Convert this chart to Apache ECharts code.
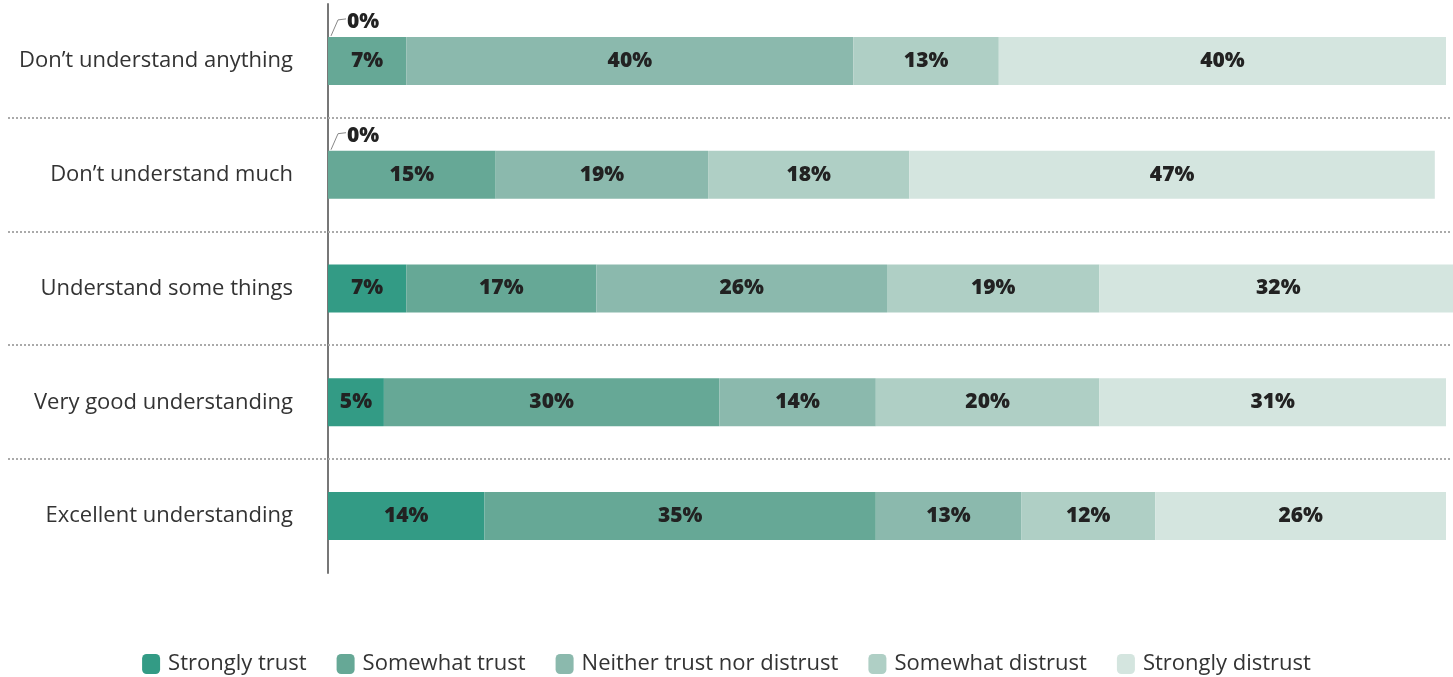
<!DOCTYPE html>
<html>
<head>
<meta charset="utf-8">
<script src="https://cdn.jsdelivr.net/npm/echarts@6/dist/echarts.min.js"></script>
<style>
  html, body { margin: 0; padding: 0; background: #fff; }
  #chart { width: 1453px; height: 677px; }
</style>
</head>
<body>
<div id="chart"></div>
<script>
// Self-rated understanding, top to bottom
const categories = [
  'Don\u2019t understand anything',
  'Don\u2019t understand much',
  'Understand some things',
  'Very good understanding',
  'Excellent understanding'
];

const seriesNames = [
  'Strongly trust',
  'Somewhat trust',
  'Neither trust nor distrust',
  'Somewhat distrust',
  'Strongly distrust'
];

// Share of respondents (%) per category
const stronglyTrust   = [0, 0, 7, 5, 14];
const somewhatTrust   = [7, 15, 17, 30, 35];
const neither         = [40, 19, 26, 14, 13];
const somewhatDistrust = [13, 18, 19, 20, 12];
const stronglyDistrust = [40, 47, 32, 31, 26];

const colors = ['#339b85', '#66a896', '#8bb9ad', '#afcfc5', '#d4e5df'];
const FONT = '"Open Sans", Lato, sans-serif';

const valueSets = [stronglyTrust, somewhatTrust, neither, somewhatDistrust, stronglyDistrust];

const barSeries = valueSets.map((vals, i) => ({
  name: seriesNames[i],
  type: 'bar',
  stack: 'total',
  barWidth: 48,
  clip: false,
  itemStyle: { color: colors[i] },
  label: {
    show: true,
    position: 'inside',
    color: '#222',
    fontFamily: FONT,
    fontWeight: 800,
    fontSize: 21,
    formatter: p => (p.value > 0 ? p.value + '%' : '')
  },
  emphasis: { disabled: true },
  data: vals
}));

// Dotted separators between category rows (span the label column too)
const separatorSeries = {
  type: 'custom',
  silent: true,
  z: 1,
  data: categories.slice(0, -1).map((c, i) => [0, i]),
  renderItem: (params, api) => {
    const idx = api.value(1);
    const a = api.coord([0, idx]);
    const b = api.coord([0, idx + 1]);
    const y = Math.round((a[1] + b[1]) / 2);
    return {
      type: 'line',
      shape: { x1: 8, y1: y, x2: 1450, y2: y },
      style: { stroke: '#aaaaaa', lineWidth: 2, lineDash: [2, 2] }
    };
  }
};

// Zero-valued "Strongly trust" segments get a leader line and label above the bar
const zeroLabelSeries = {
  type: 'custom',
  silent: true,
  z: 5,
  data: stronglyTrust
    .map((v, i) => [v, i])
    .filter(d => d[0] === 0),
  renderItem: (params, api) => {
    const p = api.coord([api.value(0), api.value(1)]);
    const top = p[1] - 24;
    return {
      type: 'group',
      children: [
        {
          type: 'polyline',
          shape: { points: [[p[0] + 3, top - 1], [p[0] + 10, top - 17], [p[0] + 18, top - 18]] },
          style: { stroke: '#888', lineWidth: 1, fill: null }
        },
        {
          type: 'text',
          style: {
            x: p[0] + 19, y: top - 15,
            text: api.value(0) + '%',
            fill: '#222',
            font: '800 21px ' + FONT,
            verticalAlign: 'middle',
            align: 'left'
          }
        }
      ]
    };
  }
};

const chart = echarts.init(document.getElementById('chart'), null, { renderer: 'canvas' });
chart.setOption({
  animation: false,
  backgroundColor: '#fff',
  grid: { left: 328, right: 7, top: 4, bottom: 104, containLabel: false },
  legend: {
    top: 648,
    left: 'center',
    itemWidth: 18,
    itemHeight: 20,
    itemGap: 30,
    icon: 'roundRect',
    data: seriesNames,
    textStyle: { fontFamily: FONT, fontSize: 22, color: '#333', padding: [0, 0, 0, 3] },
    selectedMode: false
  },
  xAxis: {
    type: 'value',
    min: 0,
    max: 100,
    show: false
  },
  yAxis: {
    type: 'category',
    data: categories,
    inverse: true,
    axisLine: { show: true, lineStyle: { color: '#777', width: 2 } },
    axisTick: { show: false },
    splitLine: { show: false },
    axisLabel: {
      margin: 35,
      fontFamily: FONT,
      fontSize: 22,
      color: '#333',
      padding: [3, 0, 0, 0]
    }
  },
  series: [separatorSeries, ...barSeries, zeroLabelSeries]
});
</script>
</body>
</html>
